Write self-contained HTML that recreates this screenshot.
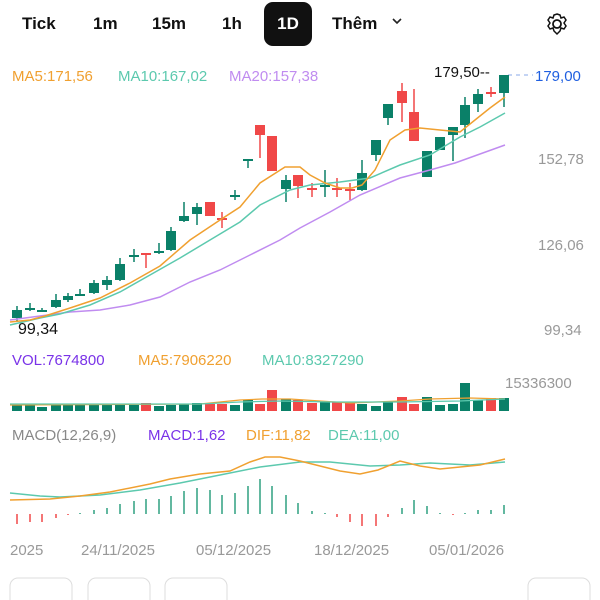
<!DOCTYPE html>
<html><head><meta charset="utf-8"><style>
body{margin:0;width:600px;height:600px;overflow:hidden;background:#fff;font-family:"Liberation Sans",sans-serif}
svg{position:absolute;left:0;top:0}
</style></head><body>
<svg id="s" width="600" height="600" xmlns="http://www.w3.org/2000/svg" font-family="Liberation Sans, sans-serif">
<g font-size="17" font-weight="bold" fill="#111">
<text x="22" y="29">Tick</text><text x="93" y="29">1m</text><text x="152" y="29">15m</text><text x="222" y="29">1h</text>
<rect x="264" y="2" width="48" height="44" rx="9" fill="#111"/><text x="288" y="29" fill="#fff" text-anchor="middle">1D</text>
<text x="332" y="29">Thêm</text></g>
<path d="M393 19 l4 4 l4 -4" stroke="#222" stroke-width="1.6" fill="none"/>
<g transform="translate(557,24)" fill="none" stroke="#111" stroke-width="1.8"><circle r="4"/><path d="M0-10 L3-9 L4-6 L7-7 L9-4 L7-1 L9 2 L7 5 L4 4 L3 7 L0 10 L-3 7 L-4 4 L-7 5 L-9 2 L-7-1 L-9-4 L-7-7 L-4-6 L-3-9Z" stroke-width="1.5"/></g>
<g font-size="15"><text x="12" y="81" fill="#f0a030">MA5:171,56</text><text x="118" y="81" fill="#5cc9ae">MA10:167,02</text><text x="229" y="81" fill="#c08cf0">MA20:157,38</text></g>
<text x="434" y="77" font-size="15" fill="#111">179,50--</text>
<line x1="508" y1="75" x2="533" y2="75" stroke="#8aa8e8" stroke-dasharray="4,4"/>
<g font-size="15" fill="#999"><text x="535" y="81" fill="#1f5fe0">179,00</text><text x="538" y="164">152,78</text><text x="538" y="250">126,06</text><text x="544" y="335">99,34</text><text x="505" y="388">15336300</text></g>
<text x="18" y="334" font-size="16" fill="#111">99,34</text>
<g id="c"></g>
<polyline fill="none" stroke="#c08cf0" stroke-width="1.5" points="10,320 40,316 70,312 100,310 130,305 160,297 190,282 220,270 250,255 280,240 300,228 330,212 360,195 400,178 430,170 455,163 480,154 505,145"/>
<polyline fill="none" stroke="#5cc9ae" stroke-width="1.5" points="10,325 40,318 60,314 90,305 120,292 150,275 180,258 210,240 240,222 260,205 290,190 310,185 340,182 370,178 400,165 430,155 460,137 480,127 505,113"/>
<polyline fill="none" stroke="#f0a030" stroke-width="1.5" points="10,322 30,320 45,316 70,308 100,298 130,283 160,266 190,240 220,220 240,207 260,183 285,167 300,167 310,175 325,183 340,188 352,188 362,185 375,170 390,140 405,130 420,128 440,130 460,132 475,120 490,108 505,97"/>
<g font-size="15"><text x="12" y="365" fill="#7a33e8">VOL:7674800</text><text x="138" y="365" fill="#f0a030">MA5:7906220</text><text x="262" y="365" fill="#5cc9ae">MA10:8327290</text></g>
<g id="v"></g>
<polyline fill="none" stroke="#f0a030" stroke-width="1.2" points="10,405 200,404 240,400 262,399 290,399 320,401 350,403 400,401 430,399 470,398 505,399"/>
<polyline fill="none" stroke="#5cc9ae" stroke-width="1.2" points="10,404 200,404 240,402 280,401 330,402 400,402 460,401 505,399"/>
<g font-size="15"><text x="12" y="440" fill="#888">MACD(12,26,9)</text><text x="148" y="440" fill="#7a33e8">MACD:1,62</text><text x="246" y="440" fill="#f0a030">DIF:11,82</text><text x="328" y="440" fill="#5cc9ae">DEA:11,00</text></g>
<polyline fill="none" stroke="#5cc9ae" stroke-width="1.5" points="10,493 40,496 60,497 100,495 140,490 180,483 220,475 260,467 300,462 330,462 370,466 400,465 430,463 470,465 505,462"/>
<polyline fill="none" stroke="#f0a030" stroke-width="1.5" points="10,500 50,499 80,496 110,492 150,484 170,479 200,474 230,471 250,462 265,457 280,457 300,461 320,466 340,471 360,474 378,470 400,461 420,466 440,469 460,467 480,465 505,459"/>
<g id="m"></g>
<g font-size="15" fill="#999"><text x="10" y="555">2025</text><text x="81" y="555">24/11/2025</text><text x="196" y="555">05/12/2025</text><text x="314" y="555">18/12/2025</text><text x="429" y="555">05/01/2026</text></g>
<g fill="none" stroke="#ddd"><rect x="10" y="578" width="62" height="40" rx="8"/><rect x="88" y="578" width="62" height="40" rx="8"/><rect x="165" y="578" width="62" height="40" rx="8"/><rect x="528" y="578" width="62" height="40" rx="8"/></g>
</svg>
<script>
var G='#0a8068',R='#f04848',NS='http://www.w3.org/2000/svg';
var C=[[17,310,318,306,321,G],[30,308,310,303,311,G],[42,310,311,308,312,G],[56,300,307,294,308,G],[68,296,300,293,302,G],[80,294,295,289,296,G],[94,283,293,280,294,G],[107,280,285,276,290,G],[120,264,280,258,281,G],[134,255,256,249,262,G],[146,253,255,253,268,R],[159,251,253,243,254,G],[171,231,250,227,251,G],[184,216,221,202,222,G],[197,207,214,203,225,G],[210,202,216,202,216,R],[222,218,219,212,228,R],[235,195,196,190,200,G],[248,159,161,159,168,G],[260,125,135,125,158,R],[272,136,171,136,171,R],[286,180,189,175,202,G],[298,175,186,175,198,R],[312,188,189,183,197,R],[325,185,186,170,197,G],[337,188,189,178,197,R],[350,189,190,183,200,R],[362,173,190,160,191,G],[376,140,155,140,161,G],[388,104,118,104,125,G],[402,91,103,83,122,R],[414,112,141,89,141,R],[427,151,177,151,177,G],[440,137,150,137,150,G],[453,127,135,127,161,G],[465,105,125,97,138,G],[478,94,104,89,112,G],[491,92,93,87,97,R],[504,75,93,75,107,G]];
var VT=[404,405,407,405,405,405,405,405,405,405,403,406,405,404,403,404,404,405,400,404,390,399,400,403,402,402,403,404,406,402,397,404,397,405,404,383,400,398,398];
function el(p,t,a){var e=document.createElementNS(NS,t);for(var k in a)e.setAttribute(k,a[k]);p.appendChild(e);}
var c=document.getElementById('c'),v=document.getElementById('v'),m=document.getElementById('m');
C.forEach(function(d,i){el(c,'line',{x1:d[0],x2:d[0],y1:d[3],y2:d[4],stroke:d[5],'stroke-width':1.5});
el(c,'rect',{x:d[0]-5,y:d[1],width:10,height:Math.max(2,d[2]-d[1]),fill:d[5]});
var t=VT[i];el(v,'rect',{x:d[0]-5,y:t,width:10,height:411-t,fill:d[5]});});
var H=[-10,-8,-8,-4,-1,1,4,6,10,13,15,15,18,23,26,24,19,21,28,35,28,19,11,3,1,-3,-8,-12,-12,-3,6,14,8,1,-1,1,4,4,9];
C.forEach(function(d,i){var h=H[i];var b=514;
el(m,'line',{x1:d[0],x2:d[0],y1:h>0?b-h:b,y2:h>0?b:b-h,stroke:h>0?'#2fa080':R,'stroke-width':1.5});});
</script>
</body></html>
